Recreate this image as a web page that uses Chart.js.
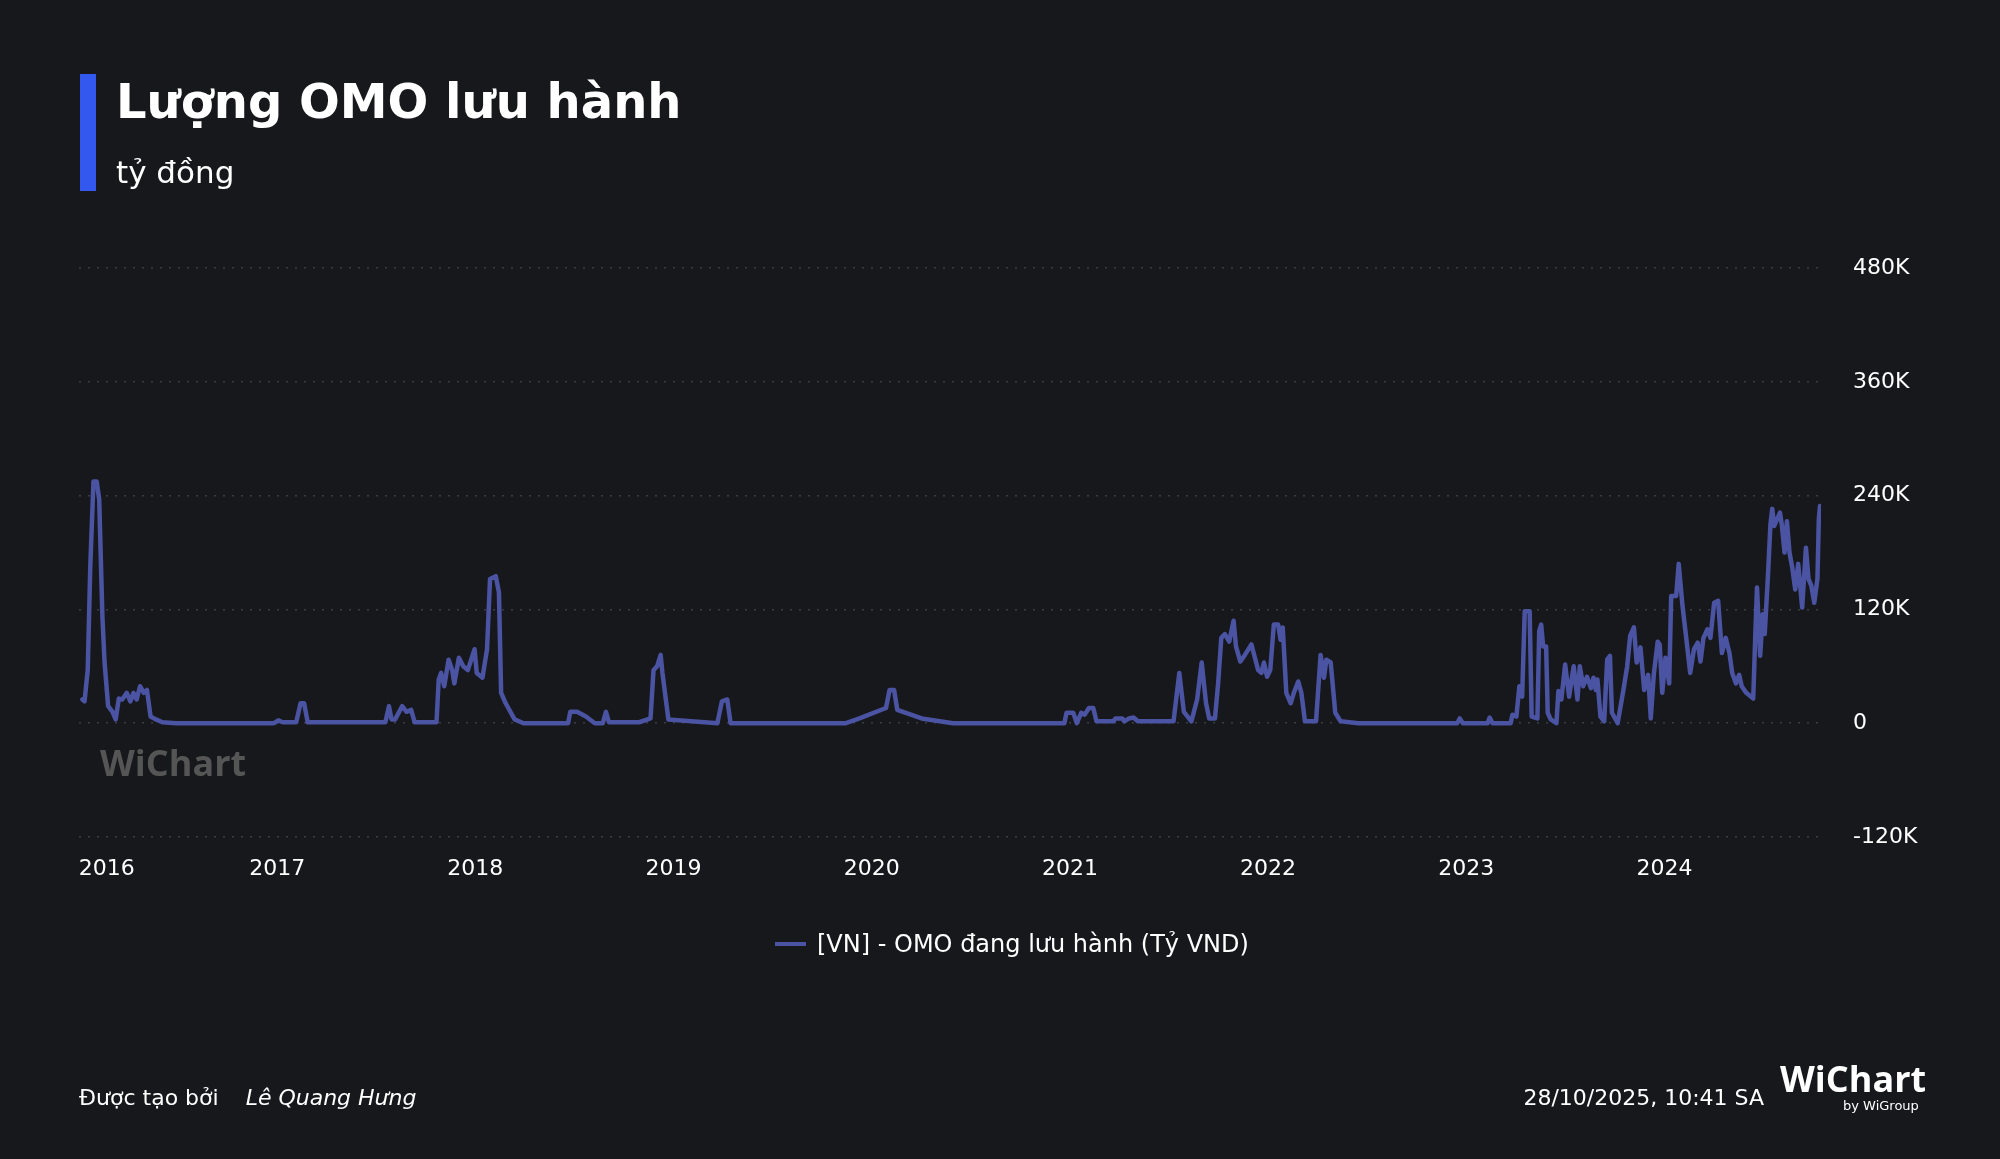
<!DOCTYPE html>
<html><head><meta charset="utf-8">
<script src="https://cdn.jsdelivr.net/npm/chart.js@4.4.0/dist/chart.umd.min.js"></script>
<style>
html,body{margin:0;padding:0;background:#17181b;width:2000px;height:1159px;overflow:hidden;font-family:"DejaVu Sans",sans-serif;color:#fff}
#wrap{position:absolute;left:0;top:0;width:2000px;height:1159px}
.abs{position:absolute;white-space:nowrap}
</style></head><body>
<div id="wrap"><canvas id="c" width="2000" height="1159"></canvas></div>
<div class="abs" style="left:80px;top:74px;width:16px;height:117px;background:#3358f0"></div>
<div class="abs" style="left:116px;top:73px;font-size:48px;font-weight:bold">Lượng OMO lưu hành</div>
<div class="abs" style="left:116px;top:154px;font-size:31px">tỷ đồng</div>
<div class="abs" style="left:100px;top:738px;font-size:36px;font-weight:bold;color:#555;font-family:'Open Sans',sans-serif">WiChart</div>
<div class="abs" style="left:775px;top:930px;font-size:24px;display:flex;align-items:center"><span style="display:inline-block;width:31px;height:4px;background:#4b53a3;margin-right:11px"></span>[VN] - OMO đang lưu hành (Tỷ VND)</div>
<div class="abs" style="left:79px;top:1085px;font-size:22px">Được tạo bởi <i style="margin-left:20px">Lê Quang Hưng</i></div>
<div class="abs" style="right:236px;top:1085px;font-size:22px">28/10/2025, 10:41 SA</div>
<div class="abs" style="left:1780px;top:1054px;font-size:36px;font-weight:bold;font-family:'Open Sans',sans-serif">WiChart</div>
<div class="abs" style="left:1843px;top:1098px;font-size:13px">by WiGroup</div>
<script>
const yearsSince2016 = [
.017,.028,.044,.057,.073,.089,.102,.118,.129,.147,.169,.185,.201,.218,.241,.259,.275,.291,.308,.327,.343,.361,.388,.421,.489,.984,1.006,1.028,1.096,1.118,1.136,1.154,1.546,1.564,1.577,1.595,1.631,1.653,1.676,1.694,1.804,1.815,1.827,1.843,1.865,1.883,1.894,1.917,1.939,1.962,1.996,2.007,2.036,2.059,2.074,2.103,2.119,2.130,2.153,2.198,2.243,2.468,2.479,2.513,2.558,2.603,2.643,2.659,2.674,2.827,2.884,2.899,2.917,2.935,2.944,2.974,3.221,3.244,3.271,3.288,3.430,
3.870,3.938,4.072,4.090,4.113,4.129,4.252,4.410,4.972,4.983,5.017,5.035,5.057,5.075,5.096,5.118,5.134,5.219,5.230,5.264,5.275,5.298,5.321,5.343,5.523,5.552,5.575,5.613,5.642,5.665,5.687,5.703,5.732,5.748,5.764,5.782,5.804,5.826,5.838,5.860,5.883,5.916,5.950,5.966,5.979,5.995,6.011,6.029,6.051,6.063,6.074,6.092,6.114,6.130,6.152,6.168,6.186,6.242,6.265,6.282,6.294,6.316,6.339,6.366,6.456,
6.954,6.967,6.983,7.108,7.118,7.133,7.224,7.233,7.253,7.268,7.282,7.295,7.320,7.330,7.359,7.368,7.378,7.388,7.403,7.411,7.426,7.455,7.465,7.480,7.499,7.519,7.542,7.561,7.573,7.590,7.609,7.629,7.642,7.654,7.662,7.677,7.696,7.711,7.725,7.735,7.764,7.793,7.812,7.827,7.846,7.860,7.879,7.898,7.918,7.931,7.947,7.966,7.976,7.989,8.005,8.024,8.034,8.059,8.072,8.091,8.111,8.130,8.149,8.168,8.182,8.197,8.217,8.232,8.251,8.271,8.290,8.309,8.328,8.342,8.361,8.377,8.390,8.413,8.448,8.458,8.467,8.483,8.496,8.506,8.521,8.535,8.544,8.554,8.568,8.583,8.593,8.606,8.618,8.631,8.645,8.660,8.675,8.695,8.714,8.727,8.741,8.756,8.772,8.779,8.785];
const omoK = [
25,23,56,166,255,255,236,113,64,18,12,4,26,25,32,23,32,25,39,32,35,7,4,1,0,0,3,1,1,21,21,1,1,18,4,4,18,12,14,1,1,46,53,39,67,56,42,69,60,56,78,53,48,78,152,155,138,32,21,4,0,0,12,12,7,0,0,12,1,1,5,56,60,72,53,4,0,23,25,0,0,
0,5,16,35,35,14,5,0,0,11,11,0,11,9,16,16,2,2,5,5,2,5,6,2,2,53,12,2,25,64,21,5,5,42,90,94,86,108,81,65,72,83,56,53,64,49,56,104,104,88,101,32,21,32,44,32,2,2,72,48,67,64,11,2,0,
0,5,0,0,6,0,0,9,7,39,28,118,118,7,5,97,104,81,81,11,4,0,34,25,62,28,60,25,60,39,49,37,48,35,46,7,2,67,71,11,0,35,60,92,101,64,80,35,51,5,53,86,83,32,69,42,134,134,168,124,88,53,78,85,65,90,99,90,127,129,74,90,74,53,42,51,39,32,26,90,143,71,115,94,150,210,226,208,215,222,208,180,213,180,164,141,168,122,185,152,145,127,152,215,229];
const yearTicks = [2016,2017,2018,2019,2020,2021,2022,2023,2024];
const yTicksK = [-120,0,120,240,360,480];

const points = yearsSince2016.map((t,i)=>({x:2016+t,y:omoK[i]}));
new Chart(document.getElementById('c'),{
  type:'line',
  data:{datasets:[{data:points,borderColor:'#4b53a3',borderWidth:4.5,pointRadius:0,tension:0,fill:false,borderJoinStyle:'round',borderCapStyle:'round'}]},
  options:{
    responsive:false,animation:false,
    layout:{padding:{left:79,top:268,right:0,bottom:0}},
    plugins:{legend:{display:false},tooltip:{enabled:false}},
    scales:{
      x:{type:'linear',min:2016,max:2024.79,
        grid:{display:false,drawTicks:false},border:{display:false},
        afterBuildTicks:s=>{s.ticks=yearTicks.map((v,i)=>({value:i===0?v+0.14:v}));},
        afterFit:s=>{s.height=322;},
        ticks:{color:'#fff',font:{size:22,family:'DejaVu Sans'},padding:19,maxRotation:0,autoSkip:false,
          callback:v=>String(Math.floor(v))}},
      y:{position:'right',min:-120,max:480,
        afterBuildTicks:s=>{s.ticks=yTicksK.map(v=>({value:v}));},
        afterFit:s=>{s.width=179;},
        grid:{color:'#3a3d48',lineWidth:1.5,drawTicks:false},
        border:{display:false,dash:[2,7]},
        ticks:{color:'#fff',font:{size:22,family:'DejaVu Sans'},padding:32,
          callback:v=>v===0?'0':v+'K'}}
    }
  }
});
</script>
</body></html>
